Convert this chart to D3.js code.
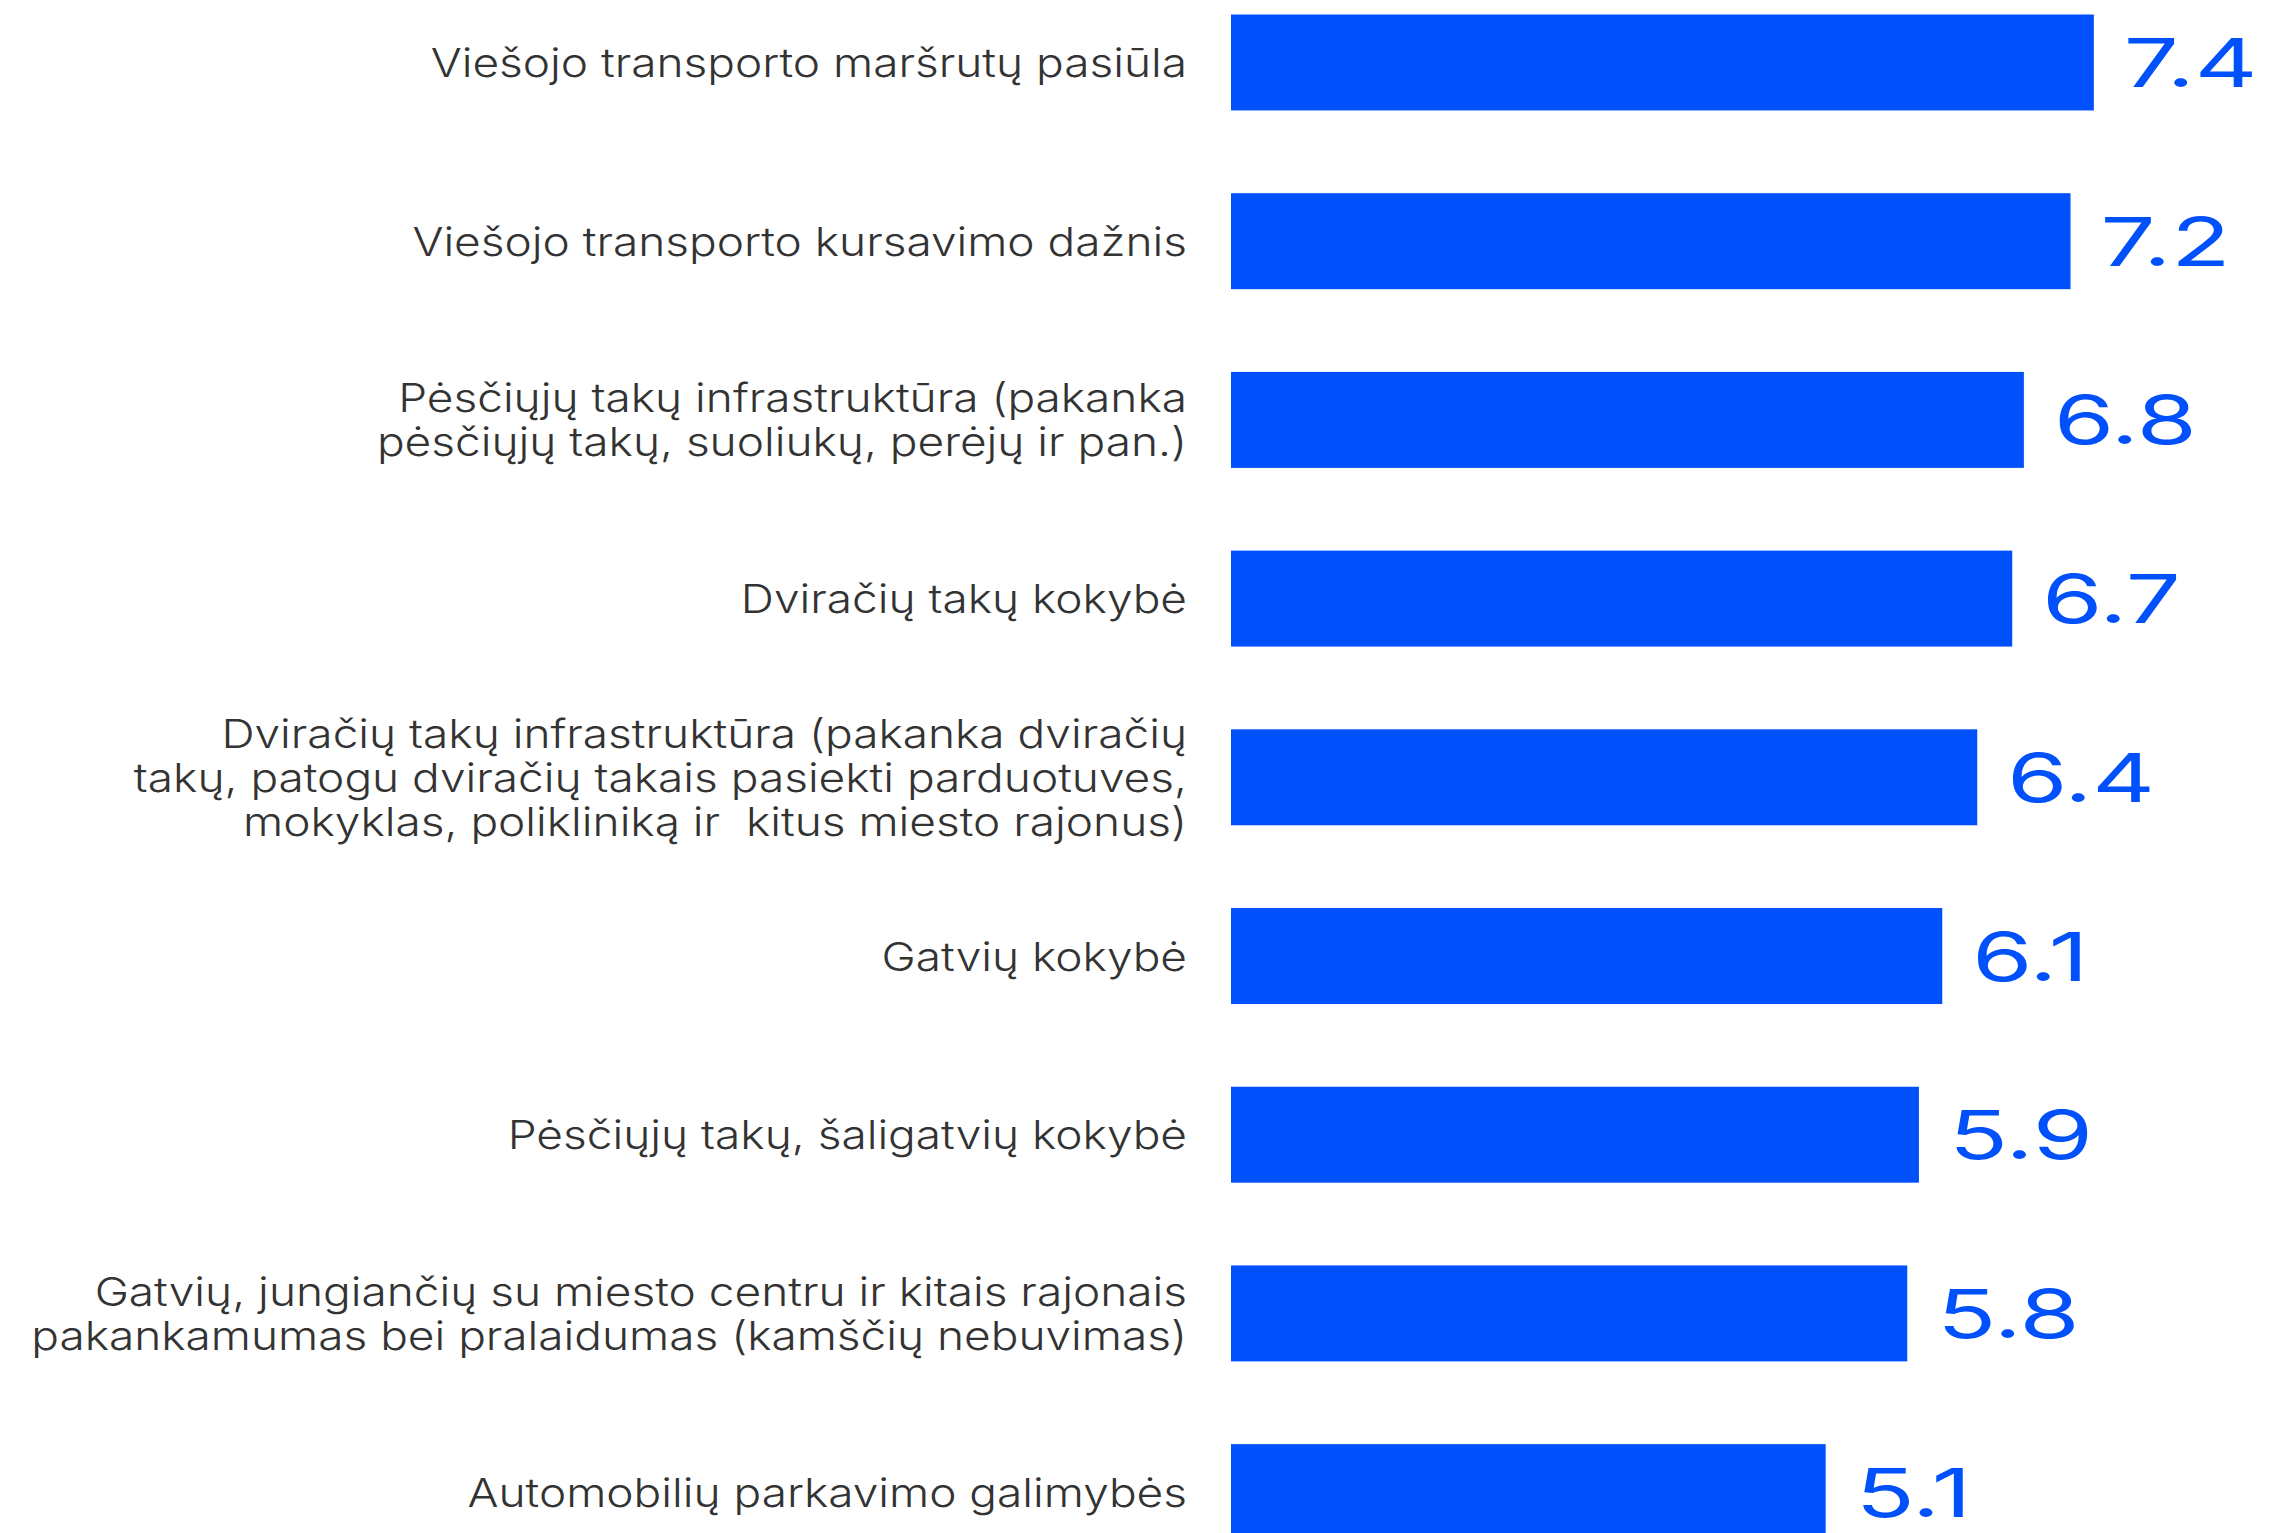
<!DOCTYPE html>
<html>
<head>
<meta charset="utf-8">
<script src="https://cdn.jsdelivr.net/npm/d3@7"></script>
<style>
  html, body { margin: 0; padding: 0; background: #ffffff; }
  svg { display: block; }
  .cat { white-space: pre; }
</style>
</head>
<body>
<svg id="chart" width="2269" height="1533"></svg>
<script>
// ---- data ----
const categories = [
  ["Viešojo transporto maršrutų pasiūla"],
  ["Viešojo transporto kursavimo dažnis"],
  ["Pėsčiųjų takų infrastruktūra (pakanka", "pėsčiųjų takų, suoliukų, perėjų ir pan.)"],
  ["Dviračių takų kokybė"],
  ["Dviračių takų infrastruktūra (pakanka dviračių", "takų, patogu dviračių takais pasiekti parduotuves,", "mokyklas, polikliniką ir  kitus miesto rajonus)"],
  ["Gatvių kokybė"],
  ["Pėsčiųjų takų, šaligatvių kokybė"],
  ["Gatvių, jungiančių su miesto centru ir kitais rajonais", "pakankamumas bei pralaidumas (kamščių nebuvimas)"],
  ["Automobilių parkavimo galimybės"]
];
const values = [7.4, 7.2, 6.8, 6.7, 6.4, 6.1, 5.9, 5.8, 5.1];
const valueLabels = ["7.4", "7.2", "6.8", "6.7", "6.4", "6.1", "5.9", "5.8", "5.1"];

// ---- layout ----
const blue = "#0050fb";
const textColor = "#333333";
const ids = categories.map((c, i) => i);

const svg = d3.select("#chart");

const x = d3.scaleLinear().domain([0, 10]).range([1231, 1231 + 1166]);
const y = d3.scaleBand().domain(ids).range([14.5, 1540.1]).paddingInner(0.463).paddingOuter(0);

// bars
svg.append("g").selectAll("rect")
  .data(values)
  .join("rect")
  .attr("x", x(0))
  .attr("y", (d, i) => y(i))
  .attr("width", d => x(d) - x(0))
  .attr("height", y.bandwidth())
  .attr("fill", blue);

// category labels
const lineH = 44;
const capH = 29;
const catG = svg.append("g");
categories.forEach((lines, i) => {
  const cy = y(i) + y.bandwidth() / 2;
  const firstBase = cy - (lines.length - 1) * lineH / 2 + capH / 2;
  const t = catG.append("text")
    .attr("class", "cat")
    .attr("transform", `translate(1187,${firstBase}) scale(1.15,1)`)
    .attr("text-anchor", "end")
    .attr("font-family", "Inter, 'Open Sans', sans-serif")
    .attr("font-weight", 300)
    .attr("font-size", 40)
    .attr("fill", textColor);
  lines.forEach((ln, k) => {
    t.append("tspan")
      .attr("x", 0)
      .attr("y", k * lineH)
      .text(ln);
  });
});

// value labels
const valG = svg.append("g");
values.forEach((v, i) => {
  const cy = y(i) + y.bandwidth() / 2;
  valG.append("text")
    .attr("transform", `translate(${x(v) + 30},${cy + 24.5}) scale(1.45,1)`)
    .attr("font-family", "Inter, 'DejaVu Sans', sans-serif")
    .attr("font-weight", 400)
    .attr("font-size", 67)
    .attr("fill", blue)
    .text(valueLabels[i]);
});
</script>
</body>
</html>
